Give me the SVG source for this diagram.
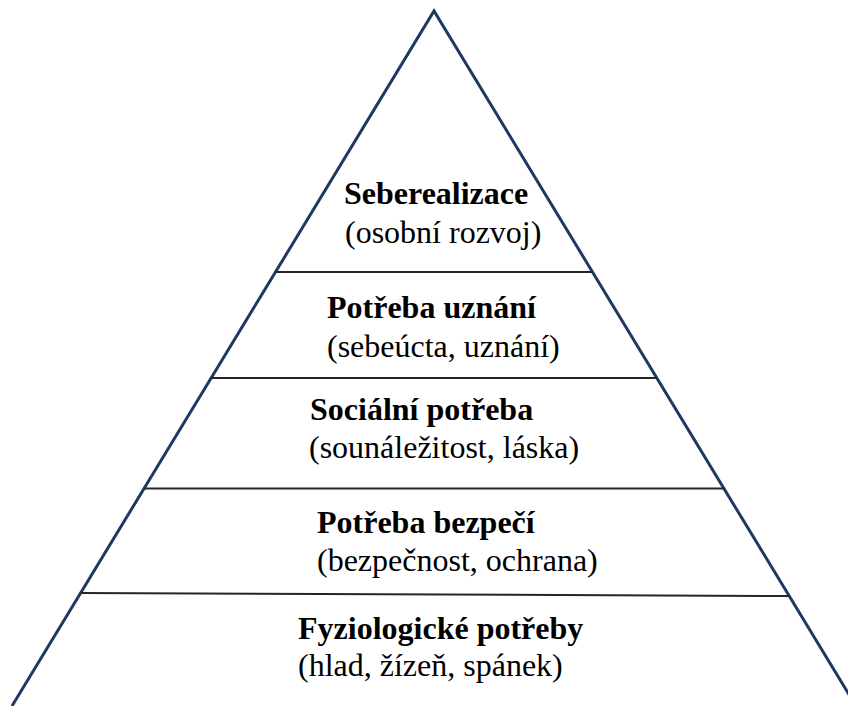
<svg xmlns="http://www.w3.org/2000/svg" width="848" height="706" viewBox="0 0 848 706">
<style>
.edge{fill:none;stroke:#1f3864;stroke-width:3;stroke-linejoin:miter}
.div{stroke:#262626;stroke-width:2}
.t{font-family:"Liberation Serif","Times New Roman",serif;font-size:32px;fill:#000}
.b{font-weight:bold}
</style>
<rect width="848" height="706" fill="#fff"/>
<g id="pyramid">
<polyline class="edge" points="12,706 434,11 856,706"/>
</g>
<g id="connectors">
<line class="div" x1="275.6" y1="272" x2="592.4" y2="272"/>
<line class="div" x1="211.2" y1="378" x2="656.8" y2="378"/>
<line class="div" x1="144.2" y1="488.5" x2="723.8" y2="488.5"/>
<line class="div" x1="80.7" y1="593" x2="789.1" y2="596"/>
</g>
<g id="level5">
<text class="t b" x="344" y="204">Seberealizace</text>
<text class="t" x="345" y="243">(osobní rozvoj)</text>
</g>
<g id="level4">
<text class="t b" x="327" y="318">Potřeba uznání</text>
<text class="t" x="327" y="357">(sebeúcta, uznání)</text>
</g>
<g id="level3">
<text class="t b" x="310" y="420">Sociální potřeba</text>
<text class="t" x="309" y="458">(sounáležitost, láska)</text>
</g>
<g id="level2">
<text class="t b" x="317" y="533">Potřeba bezpečí</text>
<text class="t" x="317" y="571">(bezpečnost, ochrana)</text>
</g>
<g id="level1">
<text class="t b" x="298" y="639">Fyziologické potřeby</text>
<text class="t" x="298" y="676">(hlad, žízeň, spánek)</text>
</g>
</svg>
